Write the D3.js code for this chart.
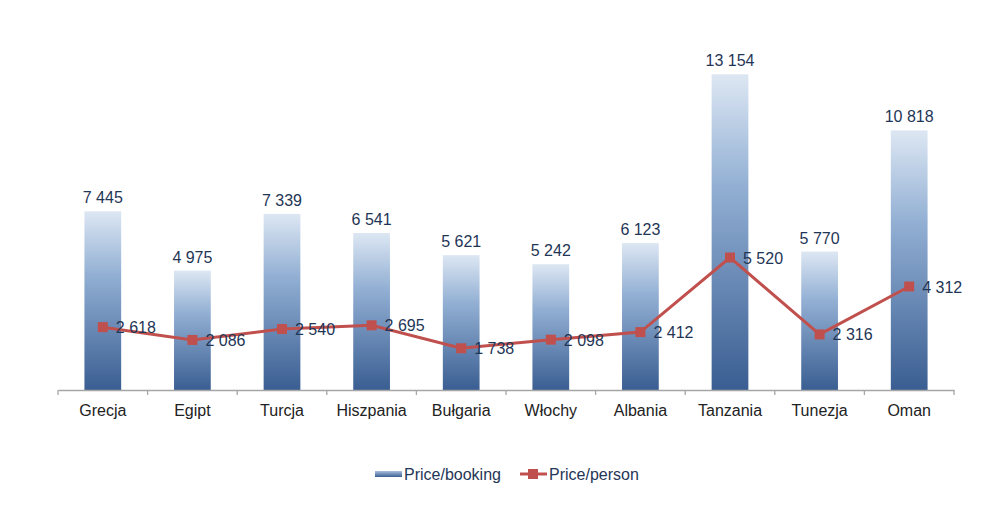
<!DOCTYPE html>
<html>
<head>
<meta charset="utf-8">
<script src="https://cdn.jsdelivr.net/npm/d3@7"></script>
<style>
  body { margin: 0; background: #fff; }
  svg text { font-family: "Liberation Sans", Arial, sans-serif; }
</style>
</head>
<body>
<div id="chart"></div>
<script>
// Data
const countries = ["Grecja", "Egipt", "Turcja", "Hiszpania", "Bułgaria", "Włochy", "Albania", "Tanzania", "Tunezja", "Oman"];
const pricePerBooking = [7445, 4975, 7339, 6541, 5621, 5242, 6123, 13154, 5770, 10818];
const pricePerPerson = [2618, 2086, 2540, 2695, 1738, 2098, 2412, 5520, 2316, 4312];
const seriesNames = ["Price/booking", "Price/person"];

const width = 1005, height = 509;
const margin = {top: 54, right: 51, bottom: 119, left: 58};

const svg = d3.select("#chart").append("svg")
    .attr("width", width)
    .attr("height", height);

// gradient for bars
const defs = svg.append("defs");
const grad = defs.append("linearGradient")
    .attr("id", "barGrad")
    .attr("x1", 0).attr("y1", 0).attr("x2", 0).attr("y2", 1);
grad.append("stop").attr("offset", "0%").attr("stop-color", "#dde7f3");
grad.append("stop").attr("offset", "35%").attr("stop-color", "#93b0d4");
grad.append("stop").attr("offset", "100%").attr("stop-color", "#3a5e92");

const legGrad = defs.append("linearGradient")
    .attr("id", "legGrad")
    .attr("x1", 0).attr("y1", 0).attr("x2", 0).attr("y2", 1);
legGrad.append("stop").attr("offset", "0%").attr("stop-color", "#a9c0de");
legGrad.append("stop").attr("offset", "100%").attr("stop-color", "#3a5e92");

const x = d3.scaleBand()
    .domain(countries)
    .range([margin.left, width - margin.right])
    .paddingInner(0.59)
    .paddingOuter(0.295);

const xc = d3.scalePoint()
    .domain(countries)
    .range([margin.left, width - margin.right])
    .padding(0.5);

const y = d3.scaleLinear()
    .domain([0, 14000])
    .range([height - margin.bottom, margin.top]);

const g = svg.append("g");

// bars
g.selectAll(".bar")
    .data(countries)
    .enter().append("rect")
    .attr("class", "bar")
    .attr("x", d => x(d))
    .attr("width", x.bandwidth())
    .attr("y", (d, i) => y(pricePerBooking[i]))
    .attr("height", (d, i) => y(0) - y(pricePerBooking[i]))
    .attr("fill", "url(#barGrad)");

const fmt = v => d3.format(",")(v).replace(/,/g, " ");

// bar labels
g.selectAll(".barLabel")
    .data(countries)
    .enter().append("text")
    .attr("x", d => xc(d))
    .attr("y", (d, i) => y(pricePerBooking[i]) - 8)
    .attr("text-anchor", "middle")
    .attr("font-size", 16)
    .attr("fill", "#1f3656")
    .text((d, i) => fmt(pricePerBooking[i]));

// x axis
const axis = d3.axisBottom(x).tickSize(0).tickPadding(15);
const ax = g.append("g")
    .attr("transform", "translate(0," + y(0) + ")")
    .call(axis);
ax.select(".domain").attr("stroke", "#a6a6a6").attr("stroke-width", 1.3);
ax.selectAll("text").attr("font-size", 16).attr("fill", "#222").attr("font-family", "Liberation Sans, Arial, sans-serif");

// tick marks at band boundaries
const bounds = countries.map(d => xc(d) - xc.step() / 2).concat([xc(countries[countries.length - 1]) + xc.step() / 2]);
ax.selectAll(".bound")
    .data(bounds)
    .enter().append("line")
    .attr("x1", d => d).attr("x2", d => d)
    .attr("y1", 0).attr("y2", 5)
    .attr("stroke", "#a6a6a6")
    .attr("stroke-width", 1.3);

// line
const line = d3.line()
    .x((d, i) => xc(countries[i]))
    .y(d => y(d));

g.append("path")
    .datum(pricePerPerson)
    .attr("fill", "none")
    .attr("stroke", "#c0504d")
    .attr("stroke-width", 3)
    .attr("d", line);

g.selectAll(".marker")
    .data(pricePerPerson)
    .enter().append("rect")
    .attr("x", (d, i) => xc(countries[i]) - 5)
    .attr("y", d => y(d) - 5)
    .attr("width", 10)
    .attr("height", 10)
    .attr("fill", "#c0504d");

g.selectAll(".lineLabel")
    .data(pricePerPerson)
    .enter().append("text")
    .attr("x", (d, i) => xc(countries[i]) + 13)
    .attr("y", d => y(d) + 6)
    .attr("font-size", 16)
    .attr("fill", "#1f3656")
    .text(d => fmt(d));

// legend
const leg = svg.append("g").attr("transform", "translate(375,474)");
leg.append("rect")
    .attr("x", 0).attr("y", -3)
    .attr("width", 27).attr("height", 6)
    .attr("fill", "url(#legGrad)");
leg.append("text")
    .attr("x", 29).attr("y", 6)
    .attr("font-size", 16)
    .attr("fill", "#1f3656")
    .text(seriesNames[0]);
leg.append("line")
    .attr("x1", 145).attr("x2", 172)
    .attr("y1", 0).attr("y2", 0)
    .attr("stroke", "#c0504d")
    .attr("stroke-width", 3);
leg.append("rect")
    .attr("x", 153).attr("y", -5)
    .attr("width", 10).attr("height", 10)
    .attr("fill", "#c0504d");
leg.append("text")
    .attr("x", 174).attr("y", 6)
    .attr("font-size", 16)
    .attr("fill", "#1f3656")
    .text(seriesNames[1]);
</script>
</body>
</html>
